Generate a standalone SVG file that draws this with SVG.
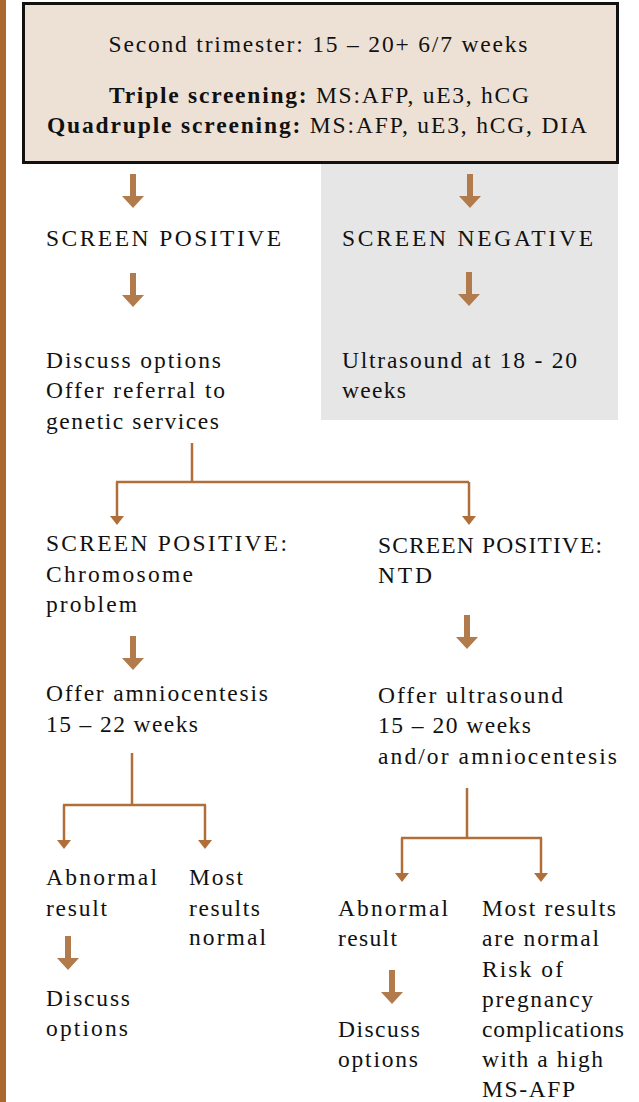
<svg xmlns="http://www.w3.org/2000/svg" width="639" height="1102" viewBox="0 0 639 1102">
<style>
text{font-family:"Liberation Serif","Times New Roman",serif;font-size:23.5px;fill:#111}
.b{font-weight:bold}
.ln{stroke:#B06E38;stroke-width:2.5;fill:none}
.ah{fill:#B06E38}
.ta{fill:#B27B4B}
</style>
<defs>
<polygon id="big" points="-3,0 3,0 3,22 11,22 0,34 -11,22 -3,22"/>
<polygon id="small" points="-7,0 7,0 0,9"/>
</defs>
<rect x="0" y="0" width="6" height="1102" fill="#A8682F"/>
<g id="negbg"><rect x="321" y="163" width="297" height="257" fill="#E6E6E6"/></g>
<g id="top">
<rect x="23.5" y="3.5" width="594" height="159" fill="#EDE1D6" stroke="#111" stroke-width="3"/>
<text x="318" y="52" text-anchor="middle" textLength="419" lengthAdjust="spacing">Second trimester: 15 – 20+ 6/7 weeks</text>
<text x="319" y="103" text-anchor="middle" textLength="420" lengthAdjust="spacing"><tspan class="b">Triple screening:</tspan> MS:AFP, uE3, hCG</text>
<text x="317" y="133" text-anchor="middle" textLength="540" lengthAdjust="spacing"><tspan class="b">Quadruple screening:</tspan> MS:AFP, uE3, hCG, DIA</text>
</g>
<g id="connectors">
<use href="#big" x="133" y="174" class="ta"/>
<use href="#big" x="470" y="174" class="ta"/>
<use href="#big" x="133" y="273" class="ta"/>
<use href="#big" x="469" y="272" class="ta"/>
<path class="ln" d="M192,443V482M116,482H469M117,482V518M469,482V518"/>
<use href="#small" x="117" y="516" class="ah"/>
<use href="#small" x="469" y="516" class="ah"/>
<use href="#big" x="133" y="636" class="ta"/>
<use href="#big" x="467" y="615" class="ta"/>
<path class="ln" d="M132,753V805M63,805H206M64,805V842M205,805V842"/>
<use href="#small" x="64" y="840" class="ah"/>
<use href="#small" x="205" y="840" class="ah"/>
<path class="ln" d="M467,788V838M401,838H542M402,838V875M541,838V875"/>
<use href="#small" x="402" y="873" class="ah"/>
<use href="#small" x="541" y="873" class="ah"/>
<use href="#big" x="68" y="936" class="ta"/>
<use href="#big" x="392" y="970" class="ta"/>
</g>
<g id="pos"><text x="46" y="246" textLength="235" lengthAdjust="spacing">SCREEN POSITIVE</text></g>
<g id="neg"><text x="342" y="246" textLength="251" lengthAdjust="spacing">SCREEN NEGATIVE</text></g>
<g id="discuss1">
<text x="46" y="368" textLength="175" lengthAdjust="spacing">Discuss options</text>
<text x="46" y="398" textLength="179" lengthAdjust="spacing">Offer referral to</text>
<text x="46" y="429" textLength="173" lengthAdjust="spacing">genetic services</text>
</g>
<g id="us1">
<text x="342" y="368" textLength="235" lengthAdjust="spacing">Ultrasound at 18 - 20</text>
<text x="342" y="398" textLength="64" lengthAdjust="spacing">weeks</text>
</g>
<g id="chrom">
<text x="46" y="551" textLength="241" lengthAdjust="spacing">SCREEN POSITIVE:</text>
<text x="46" y="582" textLength="147" lengthAdjust="spacing">Chromosome</text>
<text x="46" y="612" textLength="91" lengthAdjust="spacing">problem</text>
</g>
<g id="ntd">
<text x="378" y="553" textLength="224" lengthAdjust="spacing">SCREEN POSITIVE:</text>
<text x="378" y="583" textLength="54" lengthAdjust="spacing">NTD</text>
</g>
<g id="amnio">
<text x="46" y="701" textLength="222" lengthAdjust="spacing">Offer amniocentesis</text>
<text x="46" y="732" textLength="152" lengthAdjust="spacing">15 – 22 weeks</text>
</g>
<g id="us2">
<text x="378" y="703" textLength="185" lengthAdjust="spacing">Offer ultrasound</text>
<text x="378" y="733" textLength="153" lengthAdjust="spacing">15 – 20 weeks</text>
<text x="378" y="764" textLength="239" lengthAdjust="spacing">and/or amniocentesis</text>
</g>
<g id="abn1">
<text x="46" y="885" textLength="111" lengthAdjust="spacing">Abnormal</text>
<text x="46" y="916" textLength="61" lengthAdjust="spacing">result</text>
</g>
<g id="norm1">
<text x="189" y="885" textLength="54" lengthAdjust="spacing">Most</text>
<text x="189" y="916" textLength="71" lengthAdjust="spacing">results</text>
<text x="189" y="945" textLength="77" lengthAdjust="spacing">normal</text>
</g>
<g id="disc2">
<text x="46" y="1006" textLength="84" lengthAdjust="spacing">Discuss</text>
<text x="46" y="1036" textLength="82" lengthAdjust="spacing">options</text>
</g>
<g id="abn2">
<text x="338" y="916" textLength="110" lengthAdjust="spacing">Abnormal</text>
<text x="338" y="946" textLength="59" lengthAdjust="spacing">result</text>
</g>
<g id="disc3">
<text x="338" y="1037" textLength="82" lengthAdjust="spacing">Discuss</text>
<text x="338" y="1067" textLength="80" lengthAdjust="spacing">options</text>
</g>
<g id="norm2">
<text x="482" y="916" textLength="134" lengthAdjust="spacing">Most results</text>
<text x="482" y="946" textLength="117" lengthAdjust="spacing">are normal</text>
<text x="482" y="977" textLength="81" lengthAdjust="spacing">Risk of</text>
<text x="482" y="1007" textLength="111" lengthAdjust="spacing">pregnancy</text>
<text x="482" y="1037" textLength="142" lengthAdjust="spacing">complications</text>
<text x="482" y="1067" textLength="121" lengthAdjust="spacing">with a high</text>
<text x="482" y="1097" textLength="93" lengthAdjust="spacing">MS-AFP</text>
</g>
</svg>
